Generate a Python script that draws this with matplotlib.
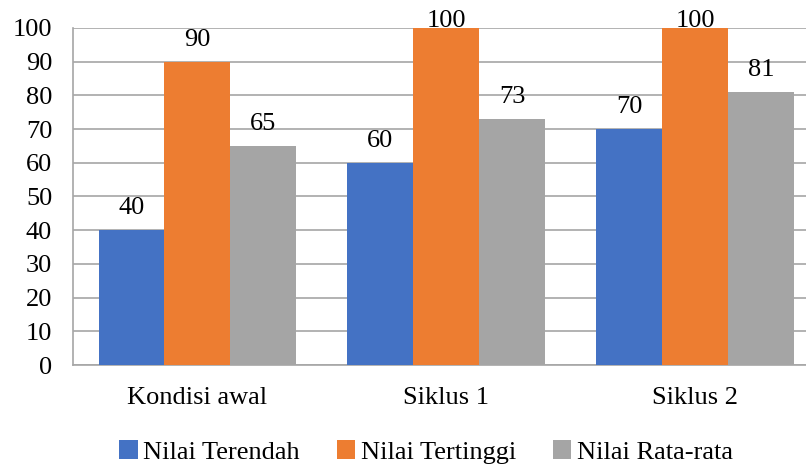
import matplotlib
matplotlib.use("Agg")
import matplotlib.pyplot as plt
import numpy as np

categories = ["Kondisi awal", "Siklus 1", "Siklus 2"]
series_names = ["Nilai Terendah", "Nilai Tertinggi", "Nilai Rata-rata"]
terendah = [40, 60, 70]
tertinggi = [90, 100, 100]
rata_rata = [65, 73, 81]
colors = ["#4472C4", "#ED7D31", "#A5A5A5"]
y_ticks = list(range(0, 101, 10))

plt.rcParams["font.family"] = ["Liberation Serif", "DejaVu Serif"]
FS = 19

fig = plt.figure(figsize=(8.06, 4.65), dpi=100)
ax = fig.add_axes([73 / 806, 100 / 465, (819.5 - 73) / 806, (365 - 28) / 465])

x = np.arange(len(categories))
width = 0.265
values = [terendah, tertinggi, rata_rata]
for i, (name, vals, col) in enumerate(zip(series_names, values, colors)):
    pos = x + (i - 1) * width
    ax.bar(pos, vals, width, color=col, label=name, zorder=3)
    for xp, v in zip(pos, vals):
        # labels sit above the bar; near the top they are pulled down into view
        ly = min(v + 6.5, 102.2)
        ax.text(xp, ly, f"{v}", ha="center", va="center", fontsize=FS,
                zorder=4, clip_on=False)

ax.set_xlim(-0.5, 2.5)
ax.set_ylim(0, 100)
ax.set_yticks(y_ticks)
ax.set_xticks(x)
ax.set_xticklabels(categories)
ax.tick_params(axis="both", length=0, labelsize=FS)
ax.tick_params(axis="x", pad=16)
ax.tick_params(axis="y", pad=15)
ax.yaxis.grid(True, color="#A6A6A6", linewidth=1.2, zorder=0)
for side in ["top", "right"]:
    ax.spines[side].set_visible(False)
for side in ["left", "bottom"]:
    ax.spines[side].set_color("#A6A6A6")
    ax.spines[side].set_linewidth(1.2)

handles, labels = ax.get_legend_handles_labels()
fig.legend(handles, labels, loc="center", bbox_to_anchor=(426 / 806, 13 / 465),
           ncol=3, frameon=False, fontsize=FS, handlelength=0.7, handleheight=0.7,
           handletextpad=0.2, columnspacing=1.4)

fig.savefig("out.png", dpi=100)
